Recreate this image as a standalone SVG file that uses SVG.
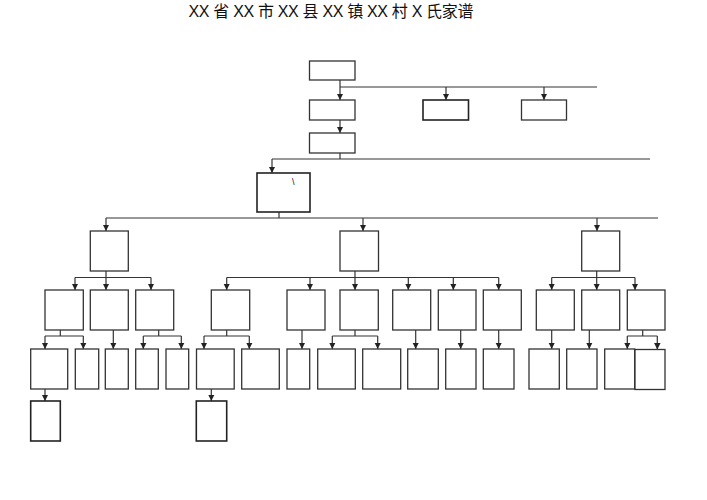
<svg xmlns="http://www.w3.org/2000/svg" width="707" height="500" viewBox="0 0 707 500">
<defs>
<marker id="arr" viewBox="0 0 10 10" refX="10" refY="5" markerWidth="6.5" markerHeight="6.5" markerUnits="userSpaceOnUse" orient="auto">
<path d="M0,0 L10,5 L0,10 z" fill="#222"/>
</marker>
</defs>
<style>
.b{fill:#fff;stroke:#333;stroke-width:1.3}
.bt{fill:#fff;stroke:#222;stroke-width:1.6}
.c{fill:none;stroke:#333;stroke-width:1.2}
.a{fill:none;stroke:#333;stroke-width:1.2;marker-end:url(#arr)}
.t{font-family:"Liberation Sans","Noto Sans CJK SC",sans-serif;fill:#111}
</style>
<rect width="707" height="500" fill="#fff"/>
<text class="t" x="331" y="17" font-size="16" text-anchor="middle" textLength="285">XX 省 XX 市 XX 县 XX 镇 XX 村 X 氏家谱</text>
<g id="connectors">
<path class="a" d="M340,80 V100"/>
<path class="c" d="M340,87 H597"/>
<path class="a" d="M446,87 V100"/>
<path class="a" d="M544,87 V100"/>
<path class="a" d="M340,120 V133"/>
<path class="c" d="M340,153 V159 M272,159 H650"/>
<path class="a" d="M272,159 V173"/>
<path class="c" d="M279,212 V218 M106,218 H658"/>
<path class="a" d="M106,218 V231"/>
<path class="a" d="M363,218 V231"/>
<path class="a" d="M597,218 V231"/>
<path class="c" d="M106,271 V277.5 M75,277.5 H151"/>
<path class="a" d="M75,277.5 V290"/>
<path class="a" d="M106,277.5 V290"/>
<path class="a" d="M151,277.5 V290"/>
<path class="c" d="M355,271 V277.5 M226.7,277.5 H498.7"/>
<path class="a" d="M226.7,277.5 V290"/>
<path class="a" d="M310,277.5 V290"/>
<path class="a" d="M355,277.5 V290"/>
<path class="a" d="M408.3,277.5 V290"/>
<path class="a" d="M453.3,277.5 V290"/>
<path class="a" d="M498.7,277.5 V290"/>
<path class="c" d="M596.7,271 V277.5 M551.7,277.5 H635"/>
<path class="a" d="M551.7,277.5 V290"/>
<path class="a" d="M596.7,277.5 V290"/>
<path class="a" d="M635,277.5 V290"/>
<path class="c" d="M60.3,330 V336 M45,336 H83.3"/>
<path class="a" d="M45,336 V349"/>
<path class="a" d="M83.3,336 V349"/>
<path class="a" d="M113.3,330 V349"/>
<path class="c" d="M158.7,330 V336 M143.3,336 H181.3"/>
<path class="a" d="M143.3,336 V349"/>
<path class="a" d="M181.3,336 V349"/>
<path class="c" d="M226.7,330 V336 M204,336 H249.3"/>
<path class="a" d="M204,336 V349"/>
<path class="a" d="M249.3,336 V349"/>
<path class="a" d="M302,330 V349"/>
<path class="c" d="M355,330 V336 M332.3,336 H377.7"/>
<path class="a" d="M332.3,336 V349"/>
<path class="a" d="M377.7,336 V349"/>
<path class="a" d="M415.7,330 V349"/>
<path class="a" d="M460.7,330 V349"/>
<path class="a" d="M498.7,330 V349"/>
<path class="a" d="M551.7,330 V349"/>
<path class="a" d="M589.3,330 V349"/>
<path class="c" d="M642.7,330 V336 M627.3,336 H657.3"/>
<path class="a" d="M627.3,336 V349"/>
<path class="a" d="M657.3,336 V349.5"/>
<path class="a" d="M45,389 V401"/>
<path class="a" d="M211.3,389 V401"/>
</g>
<g id="n0"><rect class="b" x="309.5" y="61" width="45.5" height="19"/></g>
<g id="n1"><rect class="b" x="309.5" y="100" width="45.5" height="20"/></g>
<g id="n2"><rect class="bt" x="423" y="100" width="45.5" height="20"/></g>
<g id="n3"><rect class="b" x="521.5" y="100" width="45" height="20"/></g>
<g id="n4"><rect class="b" x="309.5" y="133" width="45.5" height="20"/></g>
<g id="n5"><rect class="bt" x="257" y="173" width="53" height="39"/><text class="t" x="292" y="185" font-size="9">\</text></g>
<g id="a0"><rect class="b" x="90.3" y="231" width="38" height="40"/></g>
<g id="m0"><rect class="b" x="340" y="231" width="38.5" height="40"/></g>
<g id="r0"><rect class="b" x="581.7" y="231" width="38" height="40"/></g>
<g id="a1"><rect class="b" x="45" y="290" width="38.3" height="40"/></g>
<g id="a2"><rect class="b" x="90.3" y="290" width="38" height="40"/></g>
<g id="a3"><rect class="b" x="135.7" y="290" width="38" height="40"/></g>
<g id="m1"><rect class="b" x="211.3" y="290" width="38.4" height="40"/></g>
<g id="m2"><rect class="b" x="287" y="290" width="38" height="40"/></g>
<g id="m3"><rect class="b" x="340" y="290" width="38.3" height="40"/></g>
<g id="m4"><rect class="b" x="392.7" y="290" width="38" height="40"/></g>
<g id="m5"><rect class="b" x="438.3" y="290" width="37.7" height="40"/></g>
<g id="m6"><rect class="b" x="483.3" y="290" width="38" height="40"/></g>
<g id="r1"><rect class="b" x="536.3" y="290" width="38" height="40"/></g>
<g id="r2"><rect class="b" x="581.7" y="290" width="38" height="40"/></g>
<g id="r3"><rect class="b" x="627.3" y="290" width="37.7" height="40"/></g>
<g id="a11"><rect class="b" x="30.7" y="349" width="37" height="40"/></g>
<g id="a12"><rect class="b" x="75.3" y="349" width="23.4" height="40"/></g>
<g id="a21"><rect class="b" x="105.3" y="349" width="23" height="40"/></g>
<g id="a31"><rect class="b" x="135.7" y="349" width="22.6" height="40"/></g>
<g id="a32"><rect class="b" x="166" y="349" width="22.7" height="40"/></g>
<g id="m11"><rect class="b" x="196.5" y="349" width="37.7" height="40"/></g>
<g id="m12"><rect class="b" x="241.7" y="349" width="37.6" height="40"/></g>
<g id="m21"><rect class="b" x="287" y="349" width="22.7" height="40"/></g>
<g id="m31"><rect class="b" x="317.7" y="349" width="37.6" height="40"/></g>
<g id="m32"><rect class="b" x="362.7" y="349" width="38" height="40"/></g>
<g id="m41"><rect class="b" x="407.7" y="349" width="30.6" height="40"/></g>
<g id="m51"><rect class="b" x="445.7" y="349" width="30.3" height="40"/></g>
<g id="m61"><rect class="b" x="483.3" y="349" width="30.7" height="40"/></g>
<g id="r11"><rect class="b" x="529" y="349" width="30.3" height="40"/></g>
<g id="r21"><rect class="b" x="566.7" y="349" width="30.3" height="40"/></g>
<g id="r31"><rect class="b" x="604.7" y="349" width="30" height="40"/></g>
<g id="r32"><rect class="b" x="635" y="349.5" width="30" height="40"/></g>
<g id="a111"><rect class="bt" x="30.7" y="401" width="29.6" height="40"/></g>
<g id="m111"><rect class="bt" x="196.3" y="401" width="30.4" height="40"/></g>
</svg>
